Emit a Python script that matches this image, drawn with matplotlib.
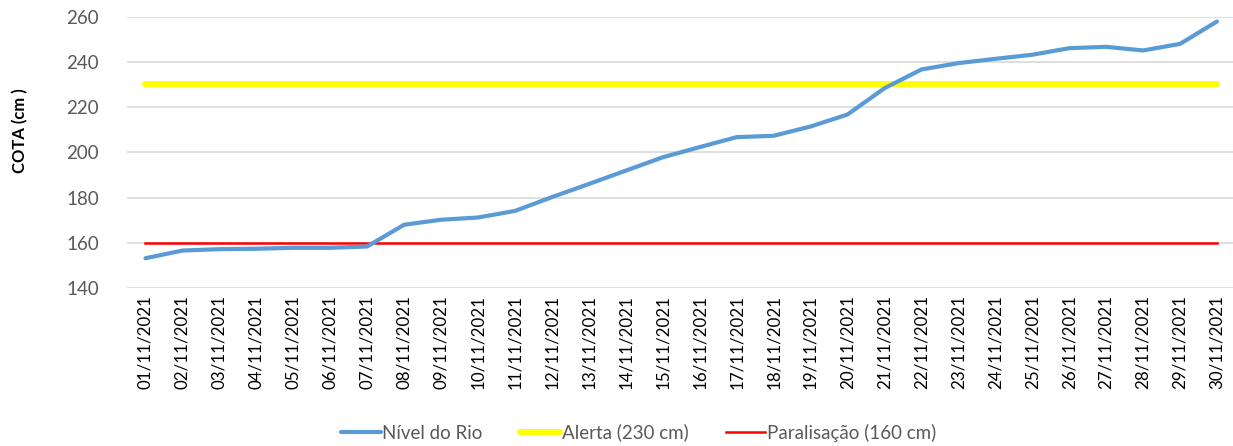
import numpy as np
import matplotlib
matplotlib.use("Agg")
import matplotlib.pyplot as plt

# --- data ---
dates = [f"{d:02d}/11/2021" for d in range(1, 31)]
nivel = [153.2, 156.6, 157.2, 157.4, 157.8, 157.8, 158.4, 168.0, 170.2, 171.2,
         174.1, 180.2, 186.0, 191.9, 197.8, 202.3, 206.7, 207.3, 211.4, 216.7,
         228.3, 236.6, 239.4, 241.3, 243.1, 246.0, 246.6, 245.0, 247.9, 257.8]
alerta = [230] * len(dates)
paralisacao = [160] * len(dates)
yticks = [140, 160, 180, 200, 220, 240, 260]

plt.rcParams['font.family'] = ['Lato', 'DejaVu Sans']

fig = plt.figure(figsize=(12.33, 4.46), dpi=100)
ax = fig.add_axes([0.103, 0.354, 0.899, 0.609])

x = np.arange(len(dates))
ax.plot(x, nivel, color='#5B9BD5', lw=3.0, solid_capstyle='round',
        solid_joinstyle='round', label='Nível do Rio', zorder=4)
ax.plot(x, alerta, color='#FFFF00', lw=4.3, solid_capstyle='round',
        label='Alerta (230 cm)', zorder=3)
ax.plot(x, paralisacao, color='#FF0000', lw=1.8, label='Paralisação (160 cm)', zorder=3)

ax.set_xlim(-0.5, len(dates) - 0.5)
ax.set_ylim(140, 260)
ax.set_yticks(yticks)
ax.set_xticks(x)
ax.set_xticklabels(dates, rotation=90, fontsize=12.2, color='black')
ax.tick_params(axis='y', labelsize=13.5, colors='#595959', length=0, pad=20)
ax.tick_params(axis='x', length=0, pad=5)
ax.grid(axis='y', color='#D9D9D9', lw=1.2, zorder=0)
for s in ax.spines.values():
    s.set_visible(False)

fig.text(0.016, 0.707, 'COTA (cm )', rotation=90, ha='center', va='center',
         fontsize=12, fontweight='bold', color='black')

leg = fig.legend(loc='center', bbox_to_anchor=(0.518, 0.03), ncol=3, frameon=False,
                 fontsize=13.5, handlelength=2.1, handletextpad=0.1, columnspacing=2.0)
for t in leg.get_texts():
    t.set_color('#595959')

fig.savefig('out.png', dpi=100)
